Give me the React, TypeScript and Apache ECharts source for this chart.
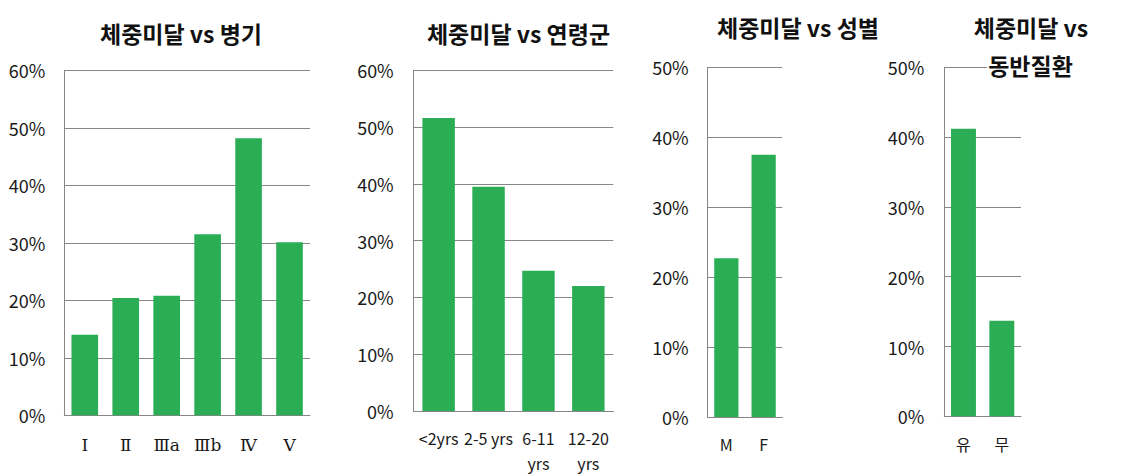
import React, { useEffect, useRef } from 'react';
import * as echarts from 'echarts';

const stageCats = ['Ⅰ', 'Ⅱ', 'Ⅲa', 'Ⅲb', 'Ⅳ', 'Ⅴ'];
const stageVals = [14.0, 20.4, 20.8, 31.5, 48.2, 30.1];
const ageCats = ['<2yrs', '2-5 yrs', '6-11\nyrs', '12-20\nyrs'];
const ageVals = [51.6, 39.5, 24.7, 22.0];
const sexCats = ['M', 'F'];
const sexVals = [22.7, 37.5];
const comorbCats = ['유', '무'];
const comorbVals = [41.2, 13.7];
const yMaxes = [60, 60, 50, 50];
const titles = ['체중미달 vs 병기', '체중미달 vs 연령군', '체중미달 vs 성별', '체중미달 vs', '동반질환'];

const FONT = '"Noto Sans CJK KR", "Noto Sans", sans-serif';
const SERIF = '"DejaVu Serif", "Liberation Serif", "Noto Sans CJK KR", serif';
const GRAY = '#868686';
const GREEN = '#2aad55';
const TEXT = '#1a1a1a';

export default function App() {
  const ref = useRef<HTMLDivElement>(null);
  useEffect(() => {
    if (!ref.current) return;
    const chart = echarts.init(ref.current, undefined, { renderer: 'svg' });
    const grids = [
      { left: 64.3, top: 70.3, width: 245.7, height: 345 },
      { left: 413.7, top: 70.3, width: 199.6, height: 340.7 },
      { left: 707.7, top: 67.3, width: 74.6, height: 349.7 },
      { left: 944.3, top: 67.3, width: 76.7, height: 349 },
    ];
    const cats = [stageCats, ageCats, sexCats, comorbCats];
    const vals = [stageVals, ageVals, sexVals, comorbVals];
    const xMargins = [17, 14, 14, 15];
    const xFont = [17, 16, 16, 16];
    const xFamily = [SERIF, FONT, FONT, FONT];
    const yMargins = [19, 20, 19, 20];
    const titlePos = [
      [181, 33],
      [518.5, 33],
      [798, 27],
      [1031, 27],
      [1030.5, 65],
    ];
    chart.setOption({
      animation: false,
      backgroundColor: '#ffffff',
      grid: grids.map((g) => ({ ...g, containLabel: false })),
      xAxis: cats.map((c, i) => ({
        type: 'category',
        gridIndex: i,
        data: c,
        axisLine: { show: true, lineStyle: { color: GRAY, width: 1 } },
        axisTick: { show: false },
        axisLabel: {
          margin: xMargins[i],
          fontSize: xFont[i],
          color: TEXT,
          fontFamily: xFamily[i],
          lineHeight: 25,
          interval: 0,
        },
      })),
      yAxis: yMaxes.map((m, i) => ({
        type: 'value',
        gridIndex: i,
        min: 0,
        max: m,
        interval: 10,
        axisLine: { show: true, lineStyle: { color: GRAY, width: 1 } },
        axisTick: { show: false },
        splitLine: { show: true, lineStyle: { color: GRAY, width: 1 } },
        axisLabel: {
          formatter: '{value}%',
          fontSize: 18,
          margin: yMargins[i],
          color: TEXT,
          fontFamily: FONT,
        },
      })),
      series: vals.map((v, i) => ({
        type: 'bar',
        xAxisIndex: i,
        yAxisIndex: i,
        data: v,
        barCategoryGap: '35%',
        itemStyle: { color: GREEN },
      })),
      graphic: titles.map((t, i) => ({
        type: 'text',
        x: titlePos[i][0],
        y: titlePos[i][1],
        z: 100,
        style: {
          text: t,
          fontSize: 23,
          fontWeight: 'bold',
          fontFamily: FONT,
          fill: '#111',
          align: 'center',
          verticalAlign: 'middle',
          backgroundColor: i === 4 ? '#ffffff' : undefined,
          padding: i === 4 ? [2, 1] : 0,
        },
      })),
    });
    return () => chart.dispose();
  }, []);
  return (
    <div
      ref={ref}
      style={{ position: 'fixed', left: 0, top: 0, width: 1127, height: 476 }}
    />
  );
}
